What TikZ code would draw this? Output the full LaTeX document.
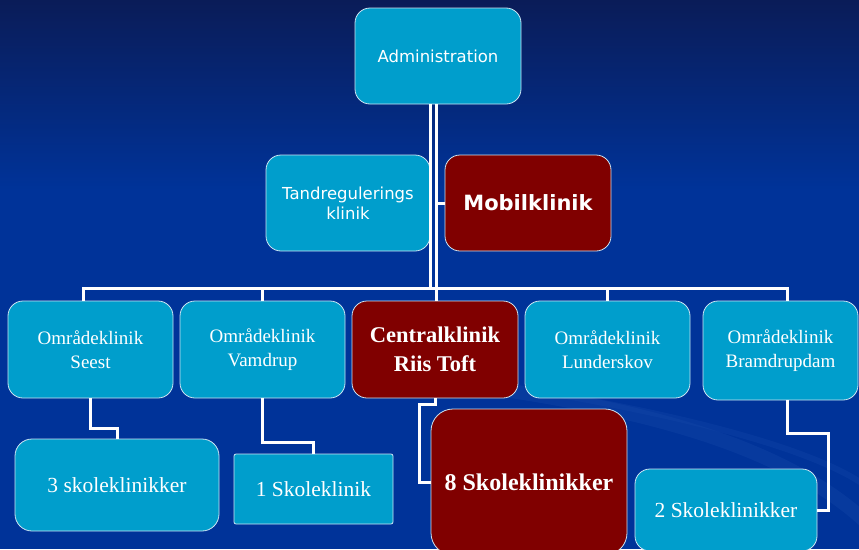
\documentclass[tikz,border=0pt]{standalone}
\usepackage{fontspec}
\setmainfont{Liberation Serif}
\newfontfamily\dejavu{DejaVu Sans}
\definecolor{bgblue}{RGB}{0,51,153}
\definecolor{bgtop}{RGB}{10,28,88}
\definecolor{lblue}{RGB}{0,158,204}
\definecolor{dred}{RGB}{128,0,0}
\definecolor{edgec}{RGB}{205,228,242}
\definecolor{swoosh}{RGB}{22,72,170}
\tikzset{
  box/.style={rounded corners=15pt, draw=edgec, line width=0.8pt, inner sep=0pt, align=center, text=white},
  bluebox/.style={box, fill=lblue},
  redbox/.style={box, fill=dred},
  conn/.style={draw=white, line width=3pt},
  sanst/.style={font=\dejavu\fontsize{16.5}{20}\selectfont},
  sansb/.style={font=\dejavu\bfseries\fontsize{21}{24}\selectfont},
  omr/.style={font=\fontsize{19}{24}\selectfont},
  skole/.style={font=\fontsize{21.5}{26}\selectfont},
}
\begin{document}
\begin{tikzpicture}[x=1pt,y=-1pt]
\useasboundingbox (0,0) rectangle (859,549);
\begin{scope}
\clip (0,0) rectangle (859,549);
% background
\fill[bgblue] (0,0) rectangle (859,549);
\shade[top color=bgtop, bottom color=bgblue] (0,0) rectangle (859,190);
\draw[swoosh, line width=14pt, opacity=0.35] (470,385) .. controls (650,410) and (820,450) .. (900,560);
\draw[swoosh, line width=6pt, opacity=0.3] (560,395) .. controls (760,430) and (860,470) .. (880,500);

% nodes
\node[bluebox, sanst, minimum width=166pt, minimum height=96pt] (adm) at (438,56) {Administration};
\node[bluebox, sanst, minimum width=164pt, minimum height=96pt] (tand) at (348,203) {Tandregulerings\\klinik};
\node[redbox, sansb, minimum width=166pt, minimum height=96pt] (mob) at (528,203) {Mobilklinik};

\node[bluebox, omr, minimum width=165pt, minimum height=97pt] (seest) at (90.5,349.5) {Områdeklinik\\Seest};
\node[bluebox, omr, minimum width=165pt, minimum height=97pt] (vam) at (262.5,349.5) {Områdeklinik\\Vamdrup};
\node[redbox, font=\bfseries\fontsize{22.5}{29}\selectfont, minimum width=166pt, minimum height=97pt] (cen) at (435,349.5) {Centralklinik\\Riis Toft};
\node[bluebox, omr, minimum width=165pt, minimum height=97pt] (lun) at (607.5,349.5) {Områdeklinik\\Lunderskov};
\node[bluebox, omr, minimum width=155pt, minimum height=99pt] (bram) at (780.5,350.5) {Områdeklinik\\Bramdrupdam};

\node[bluebox, skole, minimum width=204pt, minimum height=92pt, rounded corners=17pt] (sk3) at (117,485) {3 skoleklinikker};
\node[bluebox, skole, minimum width=159pt, minimum height=70pt, rounded corners=2pt] (sk1) at (313.5,489) {1 Skoleklinik};
\node[redbox, font=\bfseries\fontsize{24}{28}\selectfont, minimum width=196pt, minimum height=146pt, rounded corners=22pt] (sk8) at (529,482) {8 Skoleklinikker};
\node[bluebox, skole, minimum width=182pt, minimum height=82pt, rounded corners=15pt] (sk2) at (726,510) {2 Skoleklinikker};

% connectors
\path ([xshift=-7.5pt]adm.south) coordinate (trunkL)
      ([xshift=-1.5pt]adm.south) coordinate (trunkR)
      ([xshift=-7pt]seest.north) coordinate (seestTop)
      ([xshift=7pt]bram.north) coordinate (bramTop)
      ([xshift=7pt]bram.south) coordinate (bramBot);
\coordinate (busL) at (83.5,288);
\draw[conn] (trunkL) -- (trunkL |- busL) -- (seestTop |- busL) -- (seestTop);
\draw[conn] (seestTop |- busL) -- (bramTop |- busL) -- (bramTop);
\draw[conn] (vam.north) -- (vam.north |- busL);
\draw[conn] (lun.north) -- (lun.north |- busL);
\draw[conn] (trunkR) -- (trunkR |- cen.north);
\draw[conn] (mob.west) -- (mob.west -| trunkR);
\draw[conn] (tand.east) -- (tand.east -| trunkL);
\draw[conn] (seest.south) -- ++(0,30) -| (sk3.north);
\draw[conn] (vam.south) -- ++(0,44) -| (sk1.north);
\draw[conn] (cen.south) -- ++(0,6) -| ([xshift=-11pt]sk8.west) -- (sk8.west);
\draw[conn] (bramBot) -- ++(0,33) -| ([xshift=11pt]sk2.east) -- (sk2.east);
\end{scope}
\end{tikzpicture}
\end{document}
